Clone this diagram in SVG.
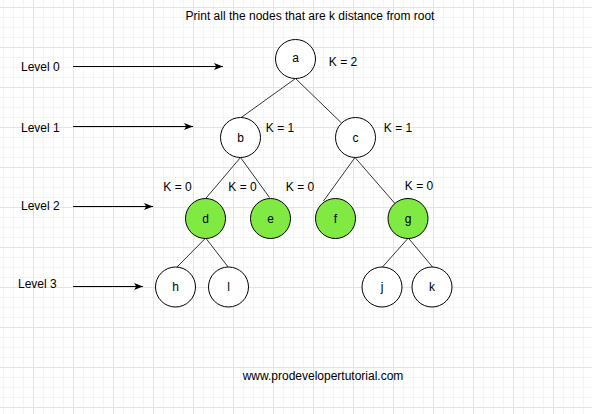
<svg xmlns="http://www.w3.org/2000/svg" width="592" height="414" viewBox="0 0 592 414">
<style>
text{font-family:"Liberation Sans",Arial,sans-serif;font-size:12px;fill:#000}
.t{text-anchor:middle;dominant-baseline:central}
.l{dominant-baseline:central}
.n{fill:#fff;stroke:#000;stroke-width:1}
.g{fill:#80ea43;stroke:#000;stroke-width:1}
.e{stroke:#333;stroke-width:1;fill:none}
.a{stroke:#000;stroke-width:1;fill:none}
</style>
<defs>
<pattern id="minor" patternUnits="userSpaceOnUse" x="3" y="7" width="10" height="10">
<path d="M0,0.5H10M0.5,0V10" stroke="#f4f4f4" stroke-width="1" fill="none"/>
</pattern>
<pattern id="major" patternUnits="userSpaceOnUse" x="33" y="7" width="40" height="40">
<path d="M0,0.5H40M0.5,0V40" stroke="#e4e4e4" stroke-width="1" fill="none"/>
</pattern>
<marker id="arr" markerWidth="10" markerHeight="8" refX="9" refY="4" orient="auto" markerUnits="userSpaceOnUse">
<path d="M0,0.5 L9,4 L0,7.5 L2.2,4 Z" fill="#000"/>
</marker>
</defs>
<rect width="592" height="414" fill="#fff"/>
<rect width="592" height="414" fill="url(#minor)"/>
<rect width="592" height="414" fill="url(#major)"/>

<text class="t" x="310" y="16">Print all the nodes that are k distance from root</text>

<g id="connectors">
<line class="e" x1="295.5" y1="78.5" x2="240.5" y2="118"/>
<line class="e" x1="295.5" y1="78.5" x2="341.5" y2="123"/>
<line class="e" x1="240.5" y1="157.5" x2="205.7" y2="198.5"/>
<line class="e" x1="240.5" y1="157.5" x2="269.5" y2="197.5"/>
<line class="e" x1="355" y1="157.5" x2="323.5" y2="201"/>
<line class="e" x1="355" y1="157.5" x2="394.5" y2="203"/>
<line class="e" x1="205.7" y1="238" x2="176.5" y2="267.5"/>
<line class="e" x1="205.7" y1="238" x2="228.5" y2="267.5"/>
<line class="e" x1="408.3" y1="238" x2="382" y2="267.5"/>
<line class="e" x1="408.3" y1="238" x2="433" y2="267.5"/>
<line class="a" x1="73" y1="66.5" x2="223" y2="66.5" marker-end="url(#arr)"/>
<line class="a" x1="73" y1="126.5" x2="193" y2="126.5" marker-end="url(#arr)"/>
<line class="a" x1="73" y1="206.5" x2="153" y2="206.5" marker-end="url(#arr)"/>
<line class="a" x1="73" y1="286.5" x2="143" y2="286.5" marker-end="url(#arr)"/>
</g>

<g id="level0"><text class="l" x="21" y="67">Level 0</text></g>
<g id="level1"><text class="l" x="21" y="128">Level 1</text></g>
<g id="level2"><text class="l" x="21" y="206">Level 2</text></g>
<g id="level3"><text class="l" x="18" y="284">Level 3</text></g>

<g id="node-a"><ellipse class="n" cx="295.5" cy="59" rx="20" ry="19.5"/><text class="t" x="295.5" y="58">a</text></g>
<g id="node-b"><ellipse class="n" cx="240.5" cy="137.5" rx="20" ry="20"/><text class="t" x="240.5" y="138">b</text></g>
<g id="node-c"><ellipse class="n" cx="355.5" cy="137.5" rx="20" ry="20"/><text class="t" x="355.5" y="138">c</text></g>
<g id="node-d"><ellipse class="g" cx="205.5" cy="218.5" rx="20" ry="20"/><text class="t" x="205.5" y="218.5">d</text></g>
<g id="node-e"><ellipse class="g" cx="270.5" cy="218.5" rx="20" ry="20"/><text class="t" x="270.5" y="218.5">e</text></g>
<g id="node-f"><ellipse class="g" cx="335.5" cy="218.5" rx="20" ry="20"/><text class="t" x="335.5" y="218.5">f</text></g>
<g id="node-g"><ellipse class="g" cx="408" cy="218.5" rx="20" ry="20"/><text class="t" x="408" y="218.5">g</text></g>
<g id="node-h"><ellipse class="n" cx="175.5" cy="287" rx="20" ry="20"/><text class="t" x="175.5" y="287">h</text></g>
<g id="node-l"><ellipse class="n" cx="228.5" cy="287" rx="20" ry="20"/><text class="t" x="228.5" y="287">l</text></g>
<g id="node-j"><ellipse class="n" cx="382" cy="287" rx="20" ry="20"/><text class="t" x="382" y="287">j</text></g>
<g id="node-k"><ellipse class="n" cx="432" cy="287" rx="20" ry="20"/><text class="t" x="432" y="287">k</text></g>

<g id="k-a"><text class="t" x="343" y="62">K = 2</text></g>
<g id="k-b"><text class="t" x="280" y="128">K = 1</text></g>
<g id="k-c"><text class="t" x="398" y="128">K = 1</text></g>
<g id="k-d"><text class="t" x="177.5" y="187">K = 0</text></g>
<g id="k-e"><text class="t" x="242.5" y="187">K = 0</text></g>
<g id="k-f"><text class="t" x="300" y="187">K = 0</text></g>
<g id="k-g"><text class="t" x="419" y="186">K = 0</text></g>

<text class="t" x="323" y="376">www.prodevelopertutorial.com</text>
</svg>
